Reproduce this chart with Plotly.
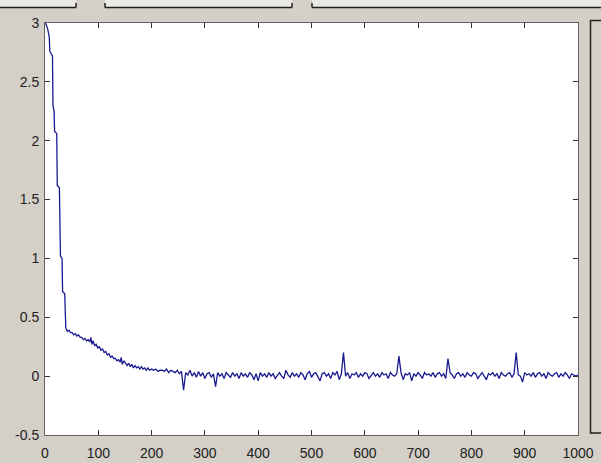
import plotly.graph_objects as go

# ---- data ----
early_x = [1, 5, 8, 9, 14, 15, 17, 18, 22, 23, 27, 28, 29, 32, 33, 37, 38, 39]
early_y = [3.0, 2.95, 2.88, 2.76, 2.72, 2.3, 2.25, 2.08, 2.06, 1.62, 1.60, 1.25, 1.02, 1.0, 0.72, 0.70, 0.45, 0.41]

decay_x = [42, 45, 48, 51, 54, 57, 60, 63, 66, 69, 72, 75, 78, 81, 84, 86, 88, 90, 93, 96,
           99, 102, 105, 108, 111, 114, 117, 120, 123, 126, 129, 132, 135, 138, 141, 143, 145, 148, 151, 154,
           157, 160, 163, 166, 169, 172, 175, 178, 181, 184, 187, 190, 193, 196]
decay_y = [0.38, 0.39, 0.37, 0.37, 0.35, 0.36, 0.34, 0.35, 0.33, 0.33, 0.31, 0.32, 0.30, 0.31, 0.29, 0.33, 0.27, 0.30, 0.26, 0.27,
           0.24, 0.25, 0.22, 0.23, 0.20, 0.21, 0.18, 0.19, 0.16, 0.17, 0.15, 0.15, 0.13, 0.14, 0.12, 0.16, 0.10, 0.13, 0.11, 0.09,
           0.11, 0.08, 0.10, 0.07, 0.09, 0.07, 0.08, 0.06, 0.08, 0.06, 0.07, 0.05, 0.07, 0.05]

tail_x = list(range(200, 1001, 4))
tail_y = [
    0.06, 0.05, 0.06, 0.04, 0.05, 0.05, 0.04, 0.06, 0.03, 0.05,
    0.04, 0.03, 0.05, 0.02, 0.04, -0.12, 0.03, 0.01, 0.05, 0.0,
    0.03, -0.01, 0.04, 0.0, 0.03, -0.02, 0.02, 0.03, -0.01, 0.02,
    -0.09, 0.03, 0.0, 0.02, -0.02, 0.03, 0.01, -0.01, 0.03, 0.0,
    0.02, -0.02, 0.03, 0.0, 0.02, -0.01, 0.03, 0.01, -0.03, 0.02,
    -0.04, 0.03, 0.0, 0.02, -0.01, 0.03, 0.0, 0.02, -0.02, 0.01,
    0.03, 0.0, -0.02, 0.05, 0.01, -0.01, 0.03, 0.0, 0.02, -0.01,
    0.03, 0.01, -0.03, 0.02, 0.04, -0.01, 0.02, 0.03, 0.0, -0.04,
    0.02, 0.03, 0.0, 0.02, -0.02, 0.03, 0.01, 0.04, -0.03, 0.02,
    0.2, 0.0, 0.03, -0.02, 0.02, 0.01, 0.03, -0.01, 0.02, 0.0,
    0.03, 0.02, -0.02, 0.01, 0.03, 0.0, 0.02, -0.01, 0.03, 0.01,
    0.02, -0.02, 0.03, 0.01, 0.0, 0.02, 0.17, 0.03, -0.03, 0.02,
    0.01, 0.03, -0.04, 0.02, 0.0, 0.03, 0.01, -0.02, 0.03, 0.01,
    0.02, 0.0, 0.03, -0.01, 0.02, 0.03, 0.0, 0.02, -0.02, 0.15,
    0.03, 0.01, -0.02, 0.02, 0.03, 0.0, 0.02, -0.01, 0.03, 0.01,
    0.0, 0.03, 0.02, -0.02, 0.01, 0.03, 0.0, -0.03, 0.02, 0.01,
    0.03, 0.0, 0.02, -0.02, 0.03, 0.01, 0.0, 0.02, 0.03, -0.01,
    0.02, 0.2, 0.01, 0.0, -0.05, 0.03, 0.01, 0.02, 0.0, 0.03,
    -0.01, 0.02, 0.03, 0.0, 0.02, -0.02, 0.03, 0.01, 0.0, 0.02,
    0.03, -0.01, 0.02, 0.0, 0.03, 0.01, -0.02, 0.02, 0.01, 0.0,
    0.01,
]

x_ticks = [0, 100, 200, 300, 400, 500, 600, 700, 800, 900, 1000]
y_ticks = [-0.5, 0, 0.5, 1, 1.5, 2, 2.5, 3]
y_tick_labels = ["-0.5", "0", "0.5", "1", "1.5", "2", "2.5", "3"]

xs = early_x + decay_x + tail_x
ys = early_y + decay_y + tail_y

W, H = 601, 463
L, R, T, B = 45, 578, 23, 435
BG = "#d4d0c8"


def px(x):
    return (x - L) / (R - L)


def py(y):
    return (B - y) / (B - T)


fig = go.Figure()
fig.add_trace(go.Scatter(x=xs, y=ys, mode="lines",
                         line=dict(color="#1a1a90", width=1.3), showlegend=False,
                         hoverinfo="skip"))

shapes = []
# buttons at top
for x0, x1, lft, rgt in [(-5, 76, False, True), (105, 292, True, True), (312, 606, True, False)]:
    shapes.append(dict(type="rect", xref="paper", yref="paper", x0=px(x0), x1=px(x1),
                       y0=py(7), y1=py(-5), fillcolor="#ebe9e4", line=dict(width=0), layer="below"))
    shapes.append(dict(type="line", xref="paper", yref="paper", x0=px(x0), x1=px(x1),
                       y0=py(7.5), y1=py(7.5), line=dict(color="#202020", width=1.5)))
    if lft:
        shapes.append(dict(type="line", xref="paper", yref="paper", x0=px(x0), x1=px(x0),
                           y0=py(7.5), y1=py(3), line=dict(color="#202020", width=1.5)))
    if rgt:
        shapes.append(dict(type="line", xref="paper", yref="paper", x0=px(x1), x1=px(x1),
                           y0=py(7.5), y1=py(3), line=dict(color="#202020", width=1.5)))
# right panel
shapes.append(dict(type="rect", xref="paper", yref="paper", x0=px(590.5), x1=px(615),
                   y0=py(433), y1=py(20.5), line=dict(color="#202020", width=1.5), fillcolor=BG))

fig.update_layout(
    width=W, height=H,
    margin=dict(l=L, r=W - R, t=T, b=H - B, pad=0, autoexpand=False),
    paper_bgcolor=BG, plot_bgcolor="white",
    shapes=shapes,
    font=dict(family="Liberation Sans, Arial, sans-serif", size=14, color="#222222"),
)
fig.update_xaxes(range=[0, 1000], tickvals=x_ticks, ticks="inside", ticklen=5,
                 tickcolor="#303030", showline=True, linecolor="#606060", linewidth=1,
                 mirror="ticks", showgrid=False, zeroline=False, ticklabelstandoff=5,
                 automargin=False)
fig.update_yaxes(range=[-0.5, 3], tickvals=y_ticks, ticktext=y_tick_labels, ticks="inside", ticklen=5,
                 tickcolor="#303030", showline=True, linecolor="#606060", linewidth=1,
                 mirror="ticks", showgrid=False, zeroline=False, ticklabelstandoff=2,
                 automargin=False)

fig.write_html("out.html")
